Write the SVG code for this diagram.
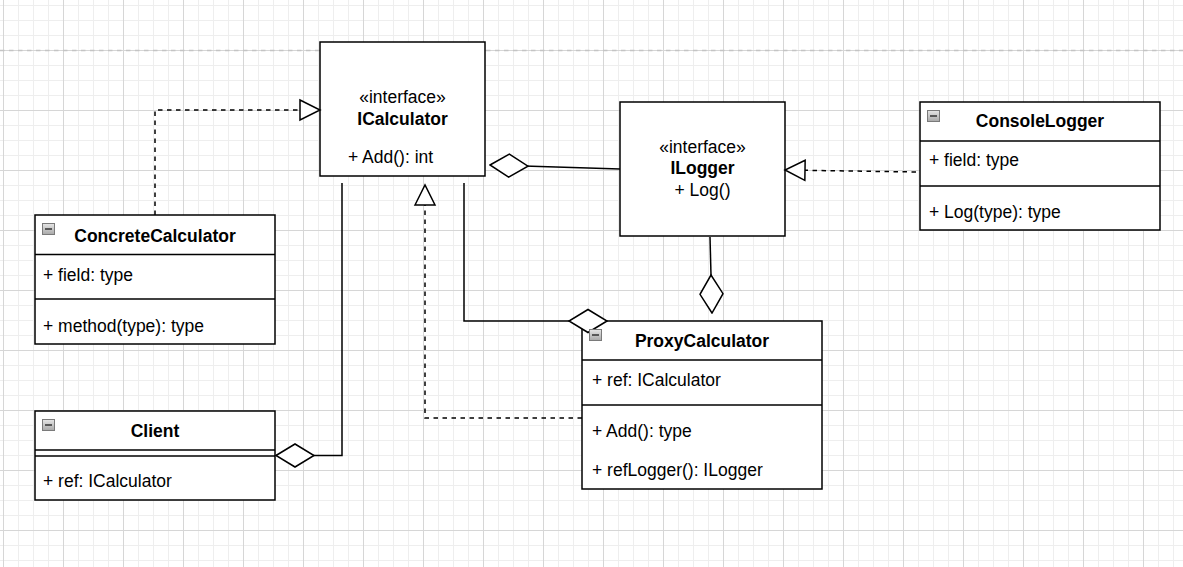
<svg xmlns="http://www.w3.org/2000/svg" width="1183" height="567" viewBox="0 0 1183 567">
<style>
  .box{fill:#fff;stroke:#000;stroke-width:1.5}
  .sep{stroke:#000;stroke-width:1.5;fill:none}
  .t{font-family:"Liberation Sans",Arial,sans-serif;font-size:17.5px;fill:#000}
  .b{font-weight:bold}
  .c{text-anchor:middle}
  .edge{fill:none;stroke:#000;stroke-width:1.5}
  .dash{stroke-dasharray:4.5 4.5}
  .ico{fill:url(#icoGrad);stroke:#7a7a7a;stroke-width:1}
</style>
<defs>
  <pattern id="minor" patternUnits="userSpaceOnUse" x="3" y="5" width="15" height="15">
    <rect x="0" y="0" width="1" height="15" fill="#eeeeee"/>
    <rect x="0" y="0" width="15" height="1" fill="#eeeeee"/>
  </pattern>
  <pattern id="major" patternUnits="userSpaceOnUse" x="3" y="50" width="60" height="60">
    <rect x="0" y="0" width="1" height="60" fill="#d6d6d6"/>
    <rect x="0" y="0" width="60" height="1" fill="#d6d6d6"/>
  </pattern>
  <linearGradient id="icoGrad" x1="0" y1="0" x2="0" y2="1">
    <stop offset="0" stop-color="#e6e6e6"/>
    <stop offset="1" stop-color="#a8a8a8"/>
  </linearGradient>
  <marker id="tri" markerUnits="userSpaceOnUse" markerWidth="24" markerHeight="24" refX="21" refY="11" orient="auto" viewBox="0 0 24 22">
    <path d="M1,1 L21,11 L1,21 Z" fill="#fff" stroke="#000" stroke-width="1.5"/>
  </marker>
  <marker id="dia" markerUnits="userSpaceOnUse" markerWidth="42" markerHeight="27" refX="1" refY="12.5" orient="auto" viewBox="0 0 42 25">
    <path d="M1,12.5 L20,1 L39,12.5 L20,24 Z" fill="#fff" stroke="#000" stroke-width="1.5"/>
  </marker>
</defs>
<rect width="1183" height="567" fill="#fff"/>
<rect width="1183" height="567" fill="url(#minor)"/>
<rect width="1183" height="567" fill="url(#major)"/>
<line x1="0" y1="50.5" x2="1183" y2="50.5" stroke="#c4c4c4" stroke-width="1.5" stroke-dasharray="4.5 4.5"/>

<g id="ICalculator">
  <rect class="box" x="320" y="42" width="165" height="134"/>
  <text class="t c" x="402.5" y="103">«interface»</text>
  <text class="t c b" x="402.5" y="125">ICalculator</text>
  <text class="t" x="348" y="163">+ Add(): int</text>
</g>

<g id="ILogger">
  <rect class="box" x="620" y="102" width="165" height="134"/>
  <text class="t c" x="702.5" y="153">«interface»</text>
  <text class="t c b" x="702.5" y="174">ILogger</text>
  <text class="t c" x="702.5" y="196">+ Log()</text>
</g>

<g id="ConsoleLogger">
  <rect class="box" x="920" y="102" width="240" height="128"/>
  <line class="sep" x1="920" y1="141" x2="1160" y2="141"/>
  <line class="sep" x1="920" y1="186" x2="1160" y2="186"/>
  <rect class="ico" x="927.5" y="110.5" width="12" height="11"/>
  <line x1="930" y1="116" x2="937" y2="116" stroke="#333" stroke-width="1.5"/>
  <text class="t c b" x="1040" y="127">ConsoleLogger</text>
  <text class="t" x="929" y="166">+ field: type</text>
  <text class="t" x="929" y="218">+ Log(type): type</text>
</g>

<g id="ConcreteCalculator">
  <rect class="box" x="35" y="215" width="240" height="129"/>
  <line class="sep" x1="35" y1="254.5" x2="275" y2="254.5"/>
  <line class="sep" x1="35" y1="299" x2="275" y2="299"/>
  <rect class="ico" x="42.5" y="223.5" width="12" height="11"/>
  <line x1="45" y1="229" x2="52" y2="229" stroke="#333" stroke-width="1.5"/>
  <text class="t c b" x="155" y="242">ConcreteCalculator</text>
  <text class="t" x="43" y="281">+ field: type</text>
  <text class="t" x="43" y="332">+ method(type): type</text>
</g>

<g id="Client">
  <rect class="box" x="35" y="411" width="240" height="89"/>
  <line class="sep" x1="35" y1="450" x2="275" y2="450"/>
  <line class="sep" x1="35" y1="456" x2="275" y2="456"/>
  <rect class="ico" x="42.5" y="419.5" width="12" height="11"/>
  <line x1="45" y1="425" x2="52" y2="425" stroke="#333" stroke-width="1.5"/>
  <text class="t c b" x="155" y="437">Client</text>
  <text class="t" x="43" y="487">+ ref: ICalculator</text>
</g>

<g id="ProxyCalculator">
  <rect class="box" x="582" y="321" width="240" height="168"/>
  <line class="sep" x1="582" y1="360" x2="822" y2="360"/>
  <line class="sep" x1="582" y1="405" x2="822" y2="405"/>
  <text class="t c b" x="702" y="347">ProxyCalculator</text>
  <text class="t" x="592" y="386">+ ref: ICalculator</text>
  <text class="t" x="592" y="437">+ Add(): type</text>
  <text class="t" x="592" y="476">+ refLogger(): ILogger</text>
</g>

<g id="connectors">
  <path class="edge dash" d="M155,215 V110 H320" marker-end="url(#tri)"/>
  <path class="edge" d="M276,455.5 H342 V183" marker-start="url(#dia)"/>
  <path class="edge dash" d="M582,418 H425 V185" marker-end="url(#tri)"/>
  <path class="edge" d="M607,321 H464 V183" marker-start="url(#dia)"/>
  <path class="edge" d="M490,165 L620,169" marker-start="url(#dia)"/>
  <path class="edge" d="M712,313 L710,237" marker-start="url(#dia)"/>
  <path class="edge dash" d="M916,172 L785,170" marker-end="url(#tri)"/>
</g>

<g id="ProxyCalculator-icon">
  <rect class="ico" x="589.5" y="329.5" width="12" height="11"/>
  <line x1="592" y1="335" x2="599" y2="335" stroke="#333" stroke-width="1.5"/>
</g>
</svg>
